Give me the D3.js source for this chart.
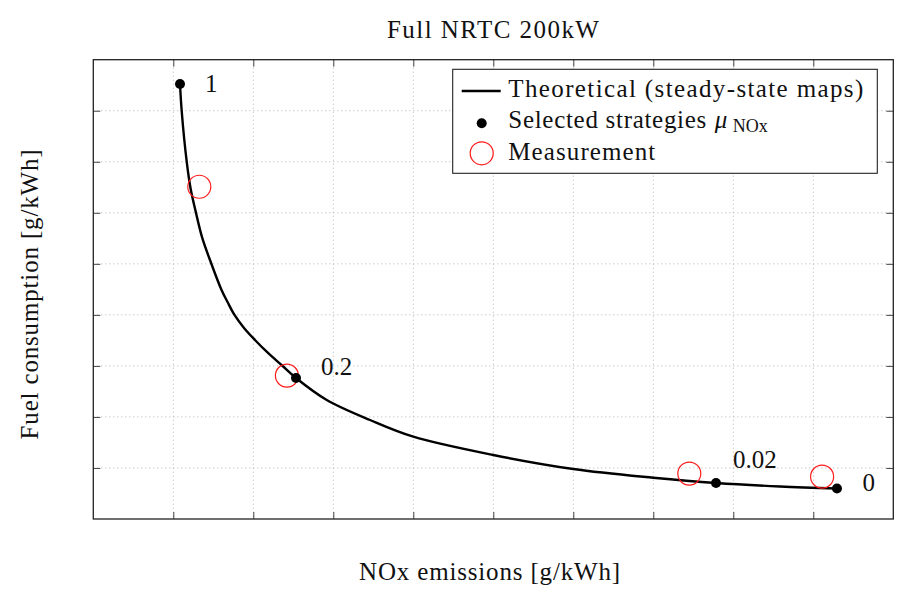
<!DOCTYPE html>
<html>
<head>
<meta charset="utf-8">
<script src="https://cdn.jsdelivr.net/npm/d3@7"></script>
<style>
    body { margin: 0; background: #fff; }
    svg text { font-family: "Liberation Serif", "DejaVu Serif", serif; fill: #111; }
</style>
</head>
<body>
<svg id="viz_svg01" width="902" height="589"></svg>
<script>
// Theoretical curve (steady-state maps): NOx emissions vs fuel consumption.
const curveNox = [1.084, 1.105, 1.168, 1.215, 1.284, 1.362, 1.477, 1.603, 1.678, 1.765,
                  1.884, 2.021, 2.184, 2.353, 2.534, 2.918, 3.459, 4.000, 5.000, 6.000,
                  7.000, 7.784, 8.584, 9.296];
const curveFuel = [8.524, 7.995, 6.996, 6.486, 5.997, 5.507, 4.997, 4.488, 4.252, 3.998,
                   3.743, 3.508, 3.253, 3.018, 2.763, 2.332, 1.940, 1.613, 1.254, 0.980,
                   0.809, 0.705, 0.637, 0.598];

// Selected strategies and their mu_NOx labels.
const strategyNox = [1.084, 2.534, 7.784, 9.296];
const strategyFuel = [8.524, 2.763, 0.705, 0.598];
const strategyLabels = ["1", "0.2", "0.02", "0"];

// Measurements.
const measNox = [1.325, 2.42, 7.45, 9.11];
const measFuel = [6.51, 2.81, 0.89, 0.83];

// Grid / tick positions (axes carry no numbers).
const xTicks = [1, 2, 3, 4, 5, 6, 7, 8, 9];
const yTicks = [1, 2, 3, 4, 5, 6, 7, 8];

// Pixel offsets of the strategy labels from their dots.
const labelOffsets = [[25, 8.4], [25, -3], [17, -15], [25.5, 2.7]];

document.addEventListener("DOMContentLoaded", function(){
    const svg = d3.select("#viz_svg01");

    // Plot area
    const left = 93.3, top = 59.7, width = 800, height = 459.3;
    const fontSize = 25;

    const scaleX = d3.scaleLinear().domain([0, 10]).range([left, left + width]);
    const scaleY = d3.scaleLinear().domain([0, 9]).range([top + height, top]);

    // The original text is set in a wider font, so widen with letter spacing
    // until the text reaches the measured width w.
    function addText(parent, str, size, w) {
        const t = parent.append("text").style("font-size", size + "px").text(str);
        if (w) {
            const natural = t.node().getComputedTextLength();
            const extra = (w - natural) / Math.max(1, str.length - 1);
            t.style("letter-spacing", extra + "px");
        }
        return t;
    }

    // Grid lines
    const grid = svg.append("g").attr("id", "grid");
    grid.selectAll(".vgrid").data(xTicks).enter().append("line")
        .attr("x1", d => scaleX(d)).attr("x2", d => scaleX(d))
        .attr("y1", top).attr("y2", top + height)
        .style("stroke", "#b0b0b0").style("stroke-width", 1)
        .style("stroke-dasharray", "1,3");
    grid.selectAll(".hgrid").data(yTicks).enter().append("line")
        .attr("y1", d => scaleY(d)).attr("y2", d => scaleY(d))
        .attr("x1", left).attr("x2", left + width)
        .style("stroke", "#b0b0b0").style("stroke-width", 1)
        .style("stroke-dasharray", "1,3");

    // Axes with inward ticks on all four sides, no labels
    const tickLen = 7;
    const axes = [
        [d3.axisBottom(scaleX).tickValues(xTicks), `translate(0,${top + height})`],
        [d3.axisTop(scaleX).tickValues(xTicks), `translate(0,${top})`],
        [d3.axisLeft(scaleY).tickValues(yTicks), `translate(${left},0)`],
        [d3.axisRight(scaleY).tickValues(yTicks), `translate(${left + width},0)`]
    ];
    axes.forEach(a => {
        const g = svg.append("g")
            .attr("transform", a[1])
            .call(a[0].tickSizeInner(-tickLen).tickSizeOuter(0).tickFormat(""));
        g.select(".domain").remove();
        g.selectAll("line").style("stroke", "#444").style("stroke-width", 1);
    });

    // Frame
    svg.append("rect")
        .attr("x", left).attr("y", top)
        .attr("width", width).attr("height", height)
        .style("fill", "none").style("stroke", "#222").style("stroke-width", 1.3);

    // Theoretical curve
    const curveData = curveNox.map((x, i) => ({x: x, y: curveFuel[i]}));
    const line = d3.line()
        .x(d => scaleX(d.x))
        .y(d => scaleY(d.y))
        .curve(d3.curveCatmullRom.alpha(0.5));
    svg.append("path")
        .datum(curveData)
        .attr("d", line)
        .style("fill", "none").style("stroke", "#000").style("stroke-width", 2.4);

    // Measurements
    svg.selectAll(".meas").data(measNox.map((x, i) => ({x: x, y: measFuel[i]})))
        .enter().append("circle")
        .attr("cx", d => scaleX(d.x)).attr("cy", d => scaleY(d.y))
        .attr("r", 11.5)
        .style("fill", "none").style("stroke", "#ff1a1a").style("stroke-width", 1.2);

    // Selected strategies
    const strat = strategyNox.map((x, i) => ({x: x, y: strategyFuel[i], label: strategyLabels[i], off: labelOffsets[i]}));
    svg.selectAll(".strat").data(strat)
        .enter().append("circle")
        .attr("cx", d => scaleX(d.x)).attr("cy", d => scaleY(d.y))
        .attr("r", 5)
        .style("fill", "#000");
    strat.forEach(d => {
        addText(svg, d.label, fontSize, null)
            .attr("x", scaleX(d.x) + d.off[0])
            .attr("y", scaleY(d.y) + d.off[1]);
    });

    // Title and axis labels
    addText(svg, "Full NRTC 200kW", fontSize, 212)
        .attr("x", 493.7).attr("y", 37.7)
        .attr("text-anchor", "middle");
    addText(svg, "NOx emissions [g/kWh]", fontSize, 261)
        .attr("x", 490).attr("y", 580)
        .attr("text-anchor", "middle");
    addText(svg, "Fuel consumption [g/kWh]", fontSize, 290)
        .attr("transform", `translate(38, 294) rotate(-90)`)
        .attr("text-anchor", "middle");

    // Legend
    const lg = svg.append("g").attr("transform", "translate(452.7, 69.3)");
    lg.append("rect")
        .attr("width", 424.6).attr("height", 104)
        .style("fill", "#fff").style("stroke", "#222").style("stroke-width", 1.1);
    lg.append("line")
        .attr("x1", 9).attr("x2", 48).attr("y1", 21.7).attr("y2", 21.7)
        .style("stroke", "#000").style("stroke-width", 2.4);
    lg.append("circle")
        .attr("cx", 29).attr("cy", 54).attr("r", 5).style("fill", "#000");
    lg.append("circle")
        .attr("cx", 29).attr("cy", 84).attr("r", 11.5)
        .style("fill", "none").style("stroke", "#ff1a1a").style("stroke-width", 1.2);

    addText(lg, "Theoretical (steady-state maps)", fontSize, 355)
        .attr("x", 55.6).attr("y", 27.4);
    addText(lg, "Selected strategies", fontSize, 198)
        .attr("x", 55.6).attr("y", 59);
    lg.append("text")
        .attr("x", 262).attr("y", 59)
        .style("font-size", fontSize + "px").style("font-style", "italic")
        .text("μ");
    addText(lg, "NOx", 18, null)
        .attr("x", 280).attr("y", 63);
    addText(lg, "Measurement", fontSize, 147)
        .attr("x", 55.6).attr("y", 90.7);
});
</script>
</body>
</html>
